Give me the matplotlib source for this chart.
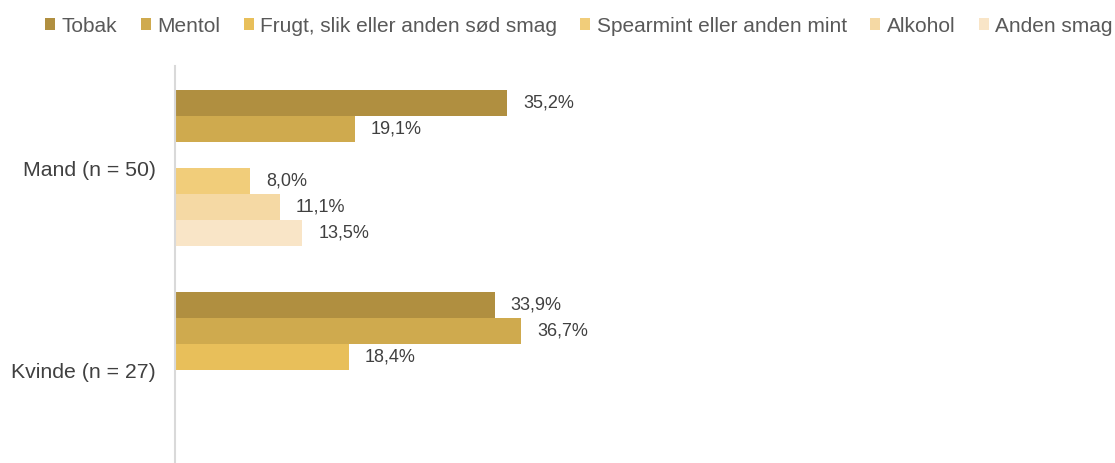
#!/usr/bin/env python3
"""Grouped horizontal bar chart: preferred flavour by gender."""
import numpy as np
import matplotlib
matplotlib.use("Agg")
import matplotlib.pyplot as plt
from matplotlib.patches import Patch

plt.rcParams["font.family"] = ["Liberation Sans", "DejaVu Sans"]

# Data (percent), NaN = no bar / no label
groups = ["Mand (n = 50)", "Kvinde (n = 27)"]
flavours = ["Tobak", "Mentol", "Frugt, slik eller anden sød smag",
            "Spearmint eller anden mint", "Alkohol", "Anden smag"]
mand = [35.2, 19.1, np.nan, 8.0, 11.1, 13.5]
kvinde = [33.9, 36.7, 18.4, np.nan, np.nan, np.nan]
colors = ["#B08F40", "#CFAA4E", "#E8BF5A", "#F1CD7A", "#F5D9A4", "#F9E5C7"]

values = np.array([mand, kvinde])  # [group, flavour]

W, H = 1115, 463
fig = plt.figure(figsize=(W / 100, H / 100), dpi=100)
ax = fig.add_axes([175 / W, 0, 1 - 175 / W, 1 - 66 / H])

bar_h = 0.1287
y = np.arange(len(groups))
for i, (name, c) in enumerate(zip(flavours, colors)):
    ypos = y + (i - 2.5) * bar_h
    vals = values[:, i]
    ax.barh(ypos, np.nan_to_num(vals), height=bar_h, color=c, edgecolor="none")
    for yy, v in zip(ypos, vals):
        if np.isnan(v):
            continue
        ax.annotate(f"{v:.1f}%".replace(".", ","), (v, yy), xytext=(16, 0),
                    textcoords="offset pixels", va="center", ha="left",
                    fontsize=13, color="#404040")

ax.set_xlim(0, (W - 175) / 9.43)
ax.set_ylim(1.46, -0.505)
ax.set_yticks(y)
ax.set_yticklabels(groups, fontsize=15.3, color="#404040")
ax.tick_params(axis="y", length=0, pad=14)
ax.set_xticks([])
for s in ["top", "right", "bottom"]:
    ax.spines[s].set_visible(False)
ax.spines["left"].set_color("#D9D9D9")
ax.spines["left"].set_linewidth(1.5)

handles = [Patch(facecolor=c, edgecolor="none") for c in colors]
leg = fig.legend(handles, flavours, loc="center", ncol=6,
                 bbox_to_anchor=(579 / W, 1 - 26 / H), frameon=False,
                 fontsize=15, handlelength=0.48, handleheight=0.48,
                 handletextpad=0.3, columnspacing=1.13, borderpad=0)
for t in leg.get_texts():
    t.set_color("#595959")

fig.savefig("out.png", dpi=100)
